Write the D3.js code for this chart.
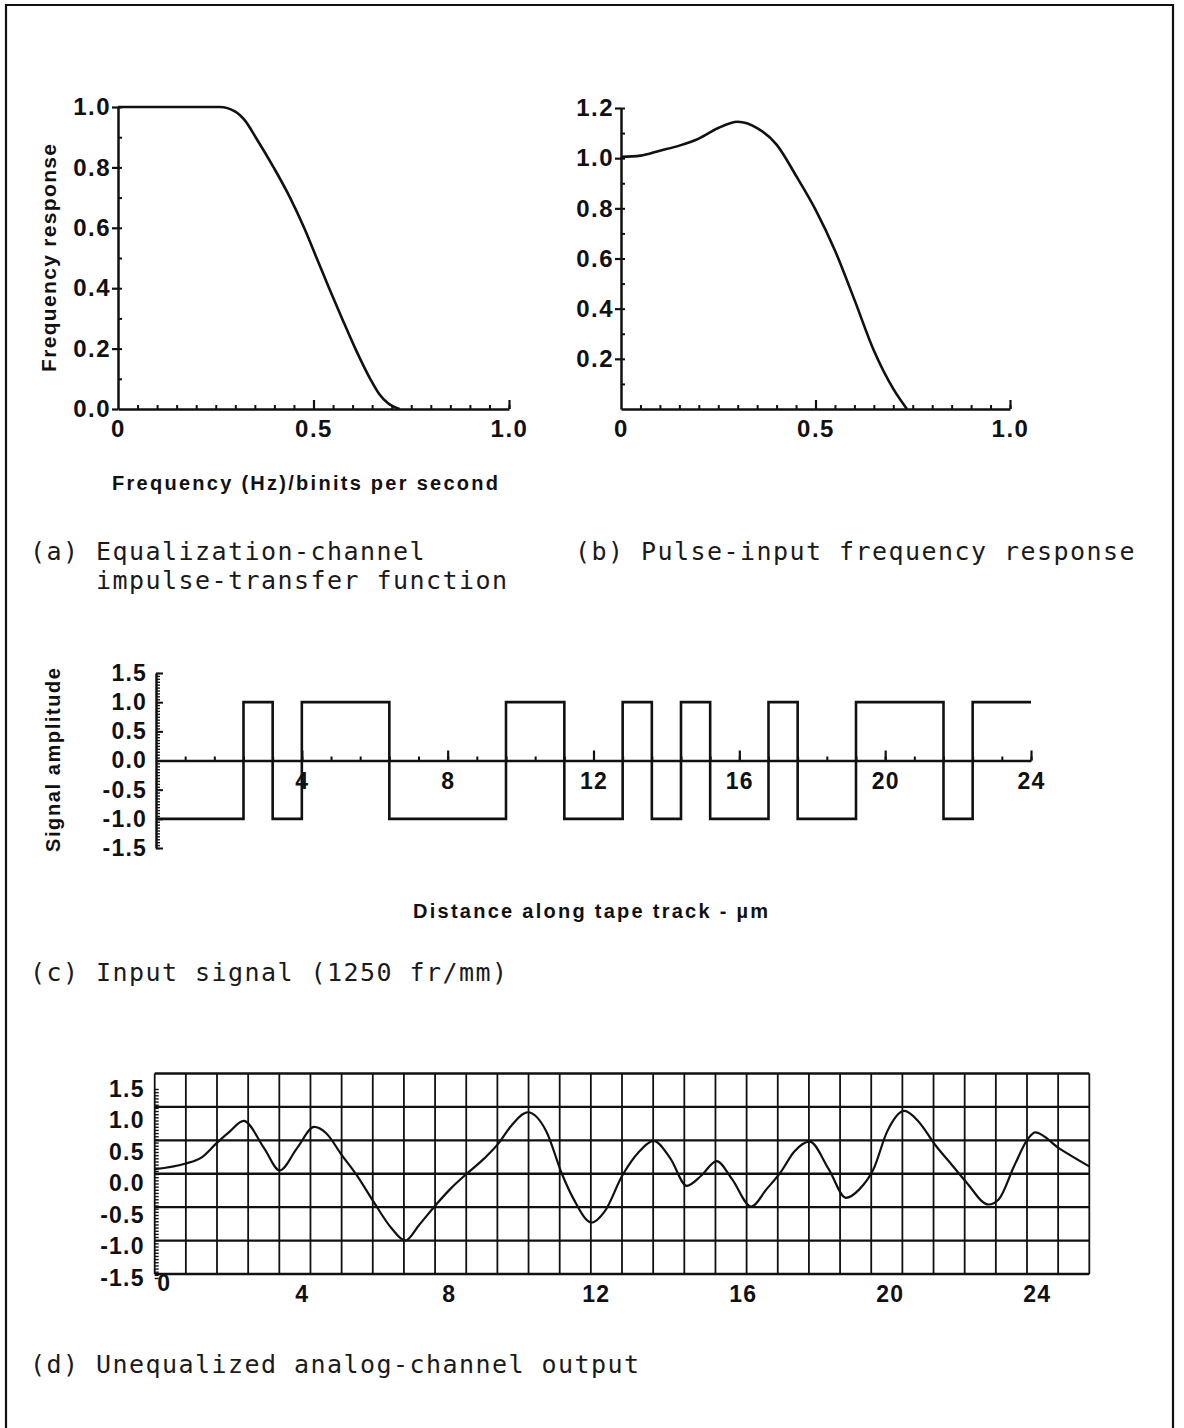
<!DOCTYPE html>
<html>
<head>
<meta charset="utf-8">
<script src="https://cdn.jsdelivr.net/npm/d3@7/dist/d3.min.js"></script>
<style>
  body { margin: 0; background: #fff; }
  svg { display: block; }
  .axis path, .axis line { stroke: #111; }
  .axis text { font-family: "Liberation Sans", Arial, sans-serif; font-weight: bold; fill: #111; }
  .title { font-family: "Liberation Sans", Arial, sans-serif; font-weight: bold; fill: #111; }
  .caption { font-family: "DejaVu Sans Mono", monospace; fill: #1a1a1a; font-size: 25px; letter-spacing: 1.45px; }
</style>
</head>
<body>
<svg id="fig" width="1184" height="1428"></svg>
<script>
// (a) equalization-channel impulse-transfer function
const freqA = [0, 0.1, 0.2, 0.26, 0.3, 0.325, 0.352, 0.398, 0.44, 0.476, 0.508, 0.54, 0.573, 0.607, 0.645, 0.668, 0.69, 0.72];
const respA = [1, 1, 1, 1, 0.985, 0.955, 0.9, 0.8, 0.7, 0.6, 0.5, 0.4, 0.3, 0.2, 0.1, 0.05, 0.02, 0];

// (b) pulse-input frequency response
const freqB = [0, 0.05, 0.1, 0.15, 0.2, 0.25, 0.3, 0.35, 0.4, 0.45, 0.5, 0.55, 0.6, 0.65, 0.7, 0.735];
const respB = [1.005, 1.01, 1.03, 1.05, 1.078, 1.12, 1.145, 1.12, 1.054, 0.93, 0.795, 0.632, 0.436, 0.233, 0.08, 0];

// (c) input signal: level changes (um) and the level that starts there
const edgesC = [0, 2.4, 3.2, 4.0, 6.4, 9.6, 11.2, 12.8, 13.6, 14.4, 15.2, 16.8, 17.6, 19.2, 21.6, 22.4, 24];
const levelsC = [-1, 1, -1, 1, -1, 1, -1, 1, -1, 1, -1, 1, -1, 1, -1, 1, 1];

// (d) unequalized analog-channel output
const distD = [0, 0.82, 1.29, 1.67, 2.04, 2.42, 2.98, 3.40, 3.87, 4.34, 4.66, 5.09, 5.51, 5.98, 6.45, 6.82, 7.19, 7.66, 8.04, 8.49,
  8.97, 9.35, 9.72, 10.15, 10.66, 11.08, 11.40, 11.89, 12.25, 12.72, 13.18, 13.58, 14.03, 14.48, 14.87, 15.29, 15.71, 16.23,
  16.65, 17.03, 17.40, 17.82, 18.34, 18.81, 19.18, 19.56, 19.93, 20.40, 20.77, 21.24, 21.71, 22.09, 22.69, 22.97, 23.39, 23.77,
  23.96, 24.61, 25.43];
const ampD = [0.07, 0.15, 0.25, 0.45, 0.63, 0.79, 0.38, 0.05, 0.38, 0.70, 0.61, 0.28, -0.03, -0.44, -0.82, -1.0, -0.77, -0.46, -0.23, 0.0,
  0.23, 0.45, 0.73, 0.92, 0.63, 0.0, -0.38, -0.73, -0.56, -0.03, 0.33, 0.49, 0.23, -0.18, -0.03, 0.19, -0.08, -0.49,
  -0.23, 0.02, 0.33, 0.48, 0.07, -0.36, -0.23, 0.07, 0.63, 0.94, 0.79, 0.43, 0.12, -0.13, -0.46, -0.38, 0.12, 0.53,
  0.62, 0.38, 0.11];

// tick values / labels
const freqTicks = [0, 0.5, 1.0];
const freqTickLabels = ["0", "0.5", "1.0"];
const respTicksA = [0, 0.2, 0.4, 0.6, 0.8, 1.0];
const respTicksB = [0.2, 0.4, 0.6, 0.8, 1.0, 1.2];
const ampTicks = [-1.5, -1.0, -0.5, 0, 0.5, 1.0, 1.5];
const distTicks = [4, 8, 12, 16, 20, 24];
const distTicksD = [0, 4, 8, 12, 16, 20, 24];
const bitCell = 0.8;   // um per cell at 1250 fr/mm

const svg = d3.select("#fig");
svg.append("rect").attr("width", 1184).attr("height", 1428).attr("fill", "#fff");

// outer frame (open at the bottom)
svg.append("path")
  .attr("d", "M6,1428V5H1173V1428")
  .attr("fill", "none").attr("stroke", "#111").attr("stroke-width", 2.2);

const fmt1 = d => d.toFixed(1);

function styleAxis(g, size, width) {
  g.attr("class", "axis").attr("font-family", null).attr("font-size", size);
  g.selectAll("line").attr("stroke-width", width);
  g.selectAll("path").attr("stroke-width", 2.5);
}

// ---------- (a) and (b) ----------
function freqPanel(xS, yS, yLabels, curve) {
  const g = svg.append("g");
  const x0 = xS.range()[0], yBase = yS(0);
  const yMinor = d3.range(1, Math.round(yS.domain()[1] * 10) + 1).map(i => i / 10);

  g.append("g").attr("transform", `translate(${x0},0)`)
    .call(d3.axisRight(yS).tickValues(yMinor).tickSize(4).tickSizeOuter(0).tickFormat(""))
    .call(a => styleAxis(a, 24, 2));
  g.append("g").attr("transform", `translate(${x0},0)`)
    .call(d3.axisLeft(yS).tickValues(yLabels).tickSize(6).tickSizeOuter(0).tickPadding(1).tickFormat(fmt1))
    .call(a => styleAxis(a, 24, 2.2))
    .call(a => a.select(".domain").remove())
    .selectAll("text").attr("letter-spacing", 1.5);

  g.append("g").attr("transform", `translate(0,${yBase})`)
    .call(d3.axisTop(xS).tickValues(d3.range(1, 21).map(i => i * 0.05)).tickSize(4).tickSizeOuter(0).tickFormat(""))
    .call(a => styleAxis(a, 24, 2));
  g.append("g").attr("transform", `translate(0,${yBase})`)
    .call(d3.axisTop(xS).tickValues([0.5, 1.0]).tickSize(9).tickFormat(""))
    .call(a => styleAxis(a, 24, 2.2))
    .call(a => a.select(".domain").remove());
  g.append("g").attr("transform", `translate(0,${yBase})`)
    .call(d3.axisBottom(xS).tickValues(freqTicks).tickSize(0).tickPadding(11)
      .tickFormat((d, i) => freqTickLabels[i]))
    .call(a => styleAxis(a, 24, 0))
    .call(a => a.select(".domain").remove())
    .selectAll("text").attr("letter-spacing", 1.5);

  g.append("path").datum(curve)
    .attr("fill", "none").attr("stroke", "#111").attr("stroke-width", 2.6)
    .attr("d", d3.line().x(d => xS(d[0])).y(d => yS(d[1])).curve(d3.curveMonotoneX));
}

const xA = d3.scaleLinear().domain([0, 1]).range([118, 509]);
const yA = d3.scaleLinear().domain([0, 1]).range([409, 107]);
freqPanel(xA, yA, respTicksA, freqA.map((f, i) => [f, respA[i]]));

const xB = d3.scaleLinear().domain([0, 1]).range([621, 1010]);
const yB = d3.scaleLinear().domain([0, 1.2]).range([409, 108]);
freqPanel(xB, yB, respTicksB, freqB.map((f, i) => [f, respB[i]]));

svg.append("text").attr("class", "title")
  .attr("transform", "translate(48,258) rotate(-90)")
  .attr("text-anchor", "middle").attr("dominant-baseline", "central")
  .attr("font-size", 21).attr("textLength", 228).attr("lengthAdjust", "spacing")
  .text("Frequency response");
svg.append("text").attr("class", "title")
  .attr("x", 112).attr("y", 490).attr("font-size", 20)
  .attr("textLength", 386).attr("lengthAdjust", "spacing")
  .text("Frequency (Hz)/binits per second");

// ---------- (c) ----------
const xC = d3.scaleLinear().domain([0, 24]).range([156, 1031]);
const yC = d3.scaleLinear().domain([-1.5, 1.5]).range([848, 673]);
const gC = svg.append("g");
gC.append("g").attr("transform", `translate(${xC(0)},0)`)
  .call(d3.axisRight(yC).tickValues(d3.range(-30, 31).map(i => i * 0.05)).tickSize(4).tickSizeOuter(0).tickFormat(""))
  .call(a => styleAxis(a, 23, 1.4));
gC.append("g").attr("transform", `translate(${xC(0)},0)`)
  .call(d3.axisRight(yC).tickValues(ampTicks).tickSize(7).tickFormat(""))
  .call(a => styleAxis(a, 23, 2))
  .call(a => a.select(".domain").remove());
gC.append("g").attr("transform", `translate(${xC(0)},0)`)
  .call(d3.axisLeft(yC).tickValues(ampTicks).tickSize(0).tickPadding(9).tickFormat(fmt1))
  .call(a => styleAxis(a, 23, 0))
  .call(a => a.select(".domain").remove())
  .selectAll("text").attr("letter-spacing", 1.2);

gC.append("g").attr("transform", `translate(0,${yC(0)})`)
  .call(d3.axisTop(xC).tickValues(d3.range(1, 31).map(i => i * bitCell)).tickSize(4).tickSizeOuter(0).tickFormat(""))
  .call(a => styleAxis(a, 23, 2));
gC.append("g").attr("transform", `translate(0,${yC(0)})`)
  .call(d3.axisTop(xC).tickValues(distTicks).tickSize(10).tickFormat(""))
  .call(a => styleAxis(a, 23, 2.2))
  .call(a => a.select(".domain").remove());
gC.append("g").attr("transform", `translate(0,${yC(0)})`)
  .call(d3.axisBottom(xC).tickValues(distTicks).tickSize(0).tickPadding(12).tickFormat(d3.format("d")))
  .call(a => styleAxis(a, 23, 0))
  .call(a => a.select(".domain").remove())
  .selectAll("text").attr("letter-spacing", 1.2);

gC.append("path").datum(edgesC.map((e, i) => [e, levelsC[i]]))
  .attr("fill", "none").attr("stroke", "#111").attr("stroke-width", 2.6)
  .attr("d", d3.line().x(d => xC(d[0])).y(d => yC(d[1])).curve(d3.curveStepAfter));

svg.append("text").attr("class", "title")
  .attr("transform", "translate(53,760) rotate(-90)")
  .attr("text-anchor", "middle").attr("dominant-baseline", "central")
  .attr("font-size", 20).attr("textLength", 184).attr("lengthAdjust", "spacing")
  .text("Signal amplitude");
svg.append("text").attr("class", "title")
  .attr("x", 413).attr("y", 918).attr("font-size", 20)
  .attr("textLength", 355).attr("lengthAdjust", "spacing")
  .text("Distance along tape track - \u00b5m");

// ---------- (d) ----------
const xD = d3.scaleLinear().domain([0, 24]).range([154.7, 1036.7]);
const yD = d3.scaleLinear().domain([-1.5, 1.5]).range([1274, 1073.5]);
const yDLab = d3.scaleLinear().domain([-1.5, 1.5]).range([1278, 1089]);
const rightD = 1089.3;
const gridCols = 30;
const colX = d3.scaleLinear().domain([0, gridCols]).range([xD(0), rightD]);
const gD = svg.append("g");

gD.append("g").selectAll("line").data(d3.range(0, gridCols + 1)).join("line")
  .attr("x1", d => colX(d)).attr("x2", d => colX(d))
  .attr("y1", yD(-1.5)).attr("y2", yD(1.5))
  .attr("stroke", "#111").attr("stroke-width", 1.8);
gD.append("g").selectAll("line").data(ampTicks).join("line")
  .attr("x1", xD(0)).attr("x2", rightD)
  .attr("y1", d => yD(d)).attr("y2", d => yD(d))
  .attr("stroke", "#111").attr("stroke-width", 2.4);

gD.append("g").attr("transform", `translate(${xD(0)},0)`)
  .call(d3.axisRight(yDLab).tickValues(d3.range(-30, 31).map(i => i * 0.05)).tickSize(4).tickSizeOuter(0).tickFormat(""))
  .call(a => styleAxis(a, 23, 1.4))
  .call(a => a.select(".domain").remove());
gD.append("g").attr("transform", `translate(${xD(0)},0)`)
  .call(d3.axisLeft(yDLab).tickValues(ampTicks).tickSize(0).tickPadding(10).tickFormat(fmt1))
  .call(a => styleAxis(a, 23, 0))
  .call(a => a.select(".domain").remove())
  .selectAll("text").attr("letter-spacing", 1.2);
gD.append("g").attr("transform", `translate(0,${yD(-1.5)})`)
  .call(d3.axisBottom(xD).tickValues(distTicksD).tickSize(0).tickPadding(12).tickFormat(d3.format("d")))
  .call(a => styleAxis(a, 23, 0))
  .call(a => a.select(".domain").remove())
  .call(a => a.selectAll(".tick").filter(d => d === 0).select("text").attr("dx", 9).attr("dy", "0.2em"))
  .selectAll("text").attr("letter-spacing", 1.2);

gD.append("path").datum(distD.map((x, i) => [x, ampD[i]]))
  .attr("fill", "none").attr("stroke", "#111").attr("stroke-width", 2.2)
  .attr("d", d3.line().x(d => xD(d[0])).y(d => yD(d[1])).curve(d3.curveMonotoneX));

// ---------- captions ----------
const captions = [
  { x: 30, y: 560, t: "(a) Equalization-channel" },
  { x: 96, y: 589, t: "impulse-transfer function" },
  { x: 575, y: 560, t: "(b) Pulse-input frequency response" },
  { x: 30, y: 981, t: "(c) Input signal (1250 fr/mm)" },
  { x: 30, y: 1373, t: "(d) Unequalized analog-channel output" }
];
svg.append("g").selectAll("text").data(captions).join("text")
  .attr("class", "caption")
  .attr("x", d => d.x).attr("y", d => d.y)
  .attr("xml:space", "preserve")
  .text(d => d.t);
</script>
</body>
</html>
